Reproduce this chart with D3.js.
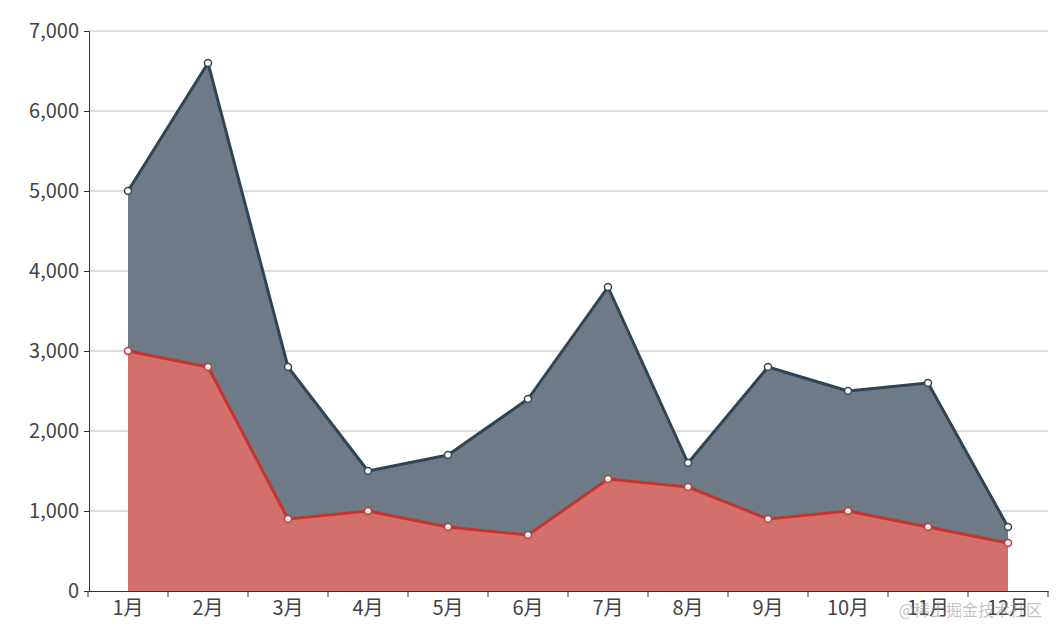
<!DOCTYPE html>
<html><head><meta charset="utf-8">
<script src="https://cdn.jsdelivr.net/npm/d3@7/dist/d3.min.js"></script>
<style>body{margin:0;background:#fff}text{font-family:"Noto Sans CJK SC","Noto Sans",sans-serif}</style>
</head><body><svg id="c" width="1058" height="641"></svg>
<script>
const months = ["1月","2月","3月","4月","5月","6月","7月","8月","9月","10月","11月","12月"]
const seriesA = [5000,6600,2800,1500,1700,2400,3800,1600,2800,2500,2600,800]
const seriesB = [3000,2800,900,1000,800,700,1400,1300,900,1000,800,600]
const yTicks = [0,1000,2000,3000,4000,5000,6000,7000]

const svg = d3.select("#c")
const x = d3.scaleBand().domain(months).range([88,1048])
const y = d3.scaleLinear().domain([0,7000]).range([591,31])
const cx = d => x(d) + x.bandwidth()/2

// grid
svg.append("g").selectAll("line").data(yTicks.slice(1)).join("line")
  .attr("x1",89).attr("x2",1048).attr("y1",d=>y(d)).attr("y2",d=>y(d))
  .attr("stroke","#bbb")

const yAxis = svg.append("g").attr("transform","translate(89,0)")
  .call(d3.axisLeft(y).tickValues(yTicks).tickSize(5).tickFormat(d3.format(",")))
yAxis.selectAll("text").attr("font-size",20).attr("fill","#444").attr("dx",-2)
yAxis.selectAll("line,path").attr("stroke","#333")

const xAxis = svg.append("g").attr("transform","translate(0,591)")
  .call(d3.axisBottom(x).tickSize(0).tickSizeOuter(0))
xAxis.selectAll("text").attr("font-size",20).attr("fill","#444").attr("dy","1.05em")
xAxis.select("path").attr("stroke","#333")
xAxis.append("g").selectAll("line").data(d3.range(13)).join("line")
  .attr("x1",i=>88+i*80).attr("x2",i=>88+i*80).attr("y1",0).attr("y2",6).attr("stroke","#333")

function drawSeries(vals, fill, stroke){
  const pts = months.map((m,i)=>[cx(m), y(vals[i])])
  svg.append("path").datum(pts)
    .attr("d", d3.area().x(d=>d[0]).y0(y(0)).y1(d=>d[1]))
    .attr("fill", fill)
  svg.append("path").datum(pts)
    .attr("d", d3.line())
    .attr("fill","none").attr("stroke",stroke).attr("stroke-width",3).attr("stroke-linejoin","round")
  svg.append("g").selectAll("circle").data(pts).join("circle")
    .attr("cx",d=>d[0]).attr("cy",d=>d[1]).attr("r",3.5)
    .attr("fill","#fff").attr("stroke",stroke).attr("stroke-width",1.5)
}
drawSeries(seriesA, "#6e7b86", "#2f4554")
drawSeries(seriesB, "#d4706c", "#c23531")
yAxis.raise()

// watermark
svg.append("text").attr("x",1042).attr("y",616).attr("text-anchor","end")
  .attr("font-size",16).attr("fill","#999").attr("fill-opacity",0.6).text("@稀土掘金技术社区")
</script></body></html>
